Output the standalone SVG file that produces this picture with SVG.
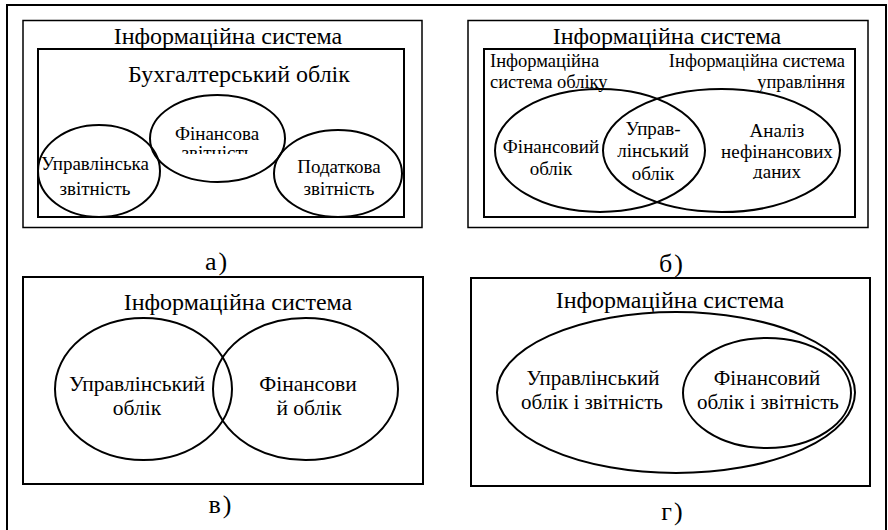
<svg xmlns="http://www.w3.org/2000/svg" width="888" height="530" viewBox="0 0 888 530" font-family="'Liberation Serif', 'DejaVu Serif', serif">
<style>
.fr{fill:none;stroke:#000;stroke-width:2}
.th{fill:none;stroke:#000;stroke-width:1.5}
.el{fill:none;stroke:#000;stroke-width:2}
text{font-family:'Liberation Serif','DejaVu Serif',serif;fill:#000;text-anchor:middle}
.t24{font-size:24px}
.lb{font-size:26px;letter-spacing:2px}
.t185{font-size:18.5px}
.t19{font-size:19px}
.t21{font-size:21px}
.t215{font-size:21.5px}
.st{text-anchor:start}
.en{text-anchor:end}
</style>
<defs>
<clipPath id="clipA"><rect x="140" y="100" width="160" height="54"/></clipPath>
<clipPath id="clipB"><rect x="720" y="100" width="120" height="79"/></clipPath>
</defs>
<rect x="0" y="0" width="888" height="530" fill="#fff"/>
<path d="M7,532 V5 H886 V532" class="fr"/>

<g id="panel-a">
<rect x="23" y="20.5" width="399" height="207" class="th"/>
<text class="t24" x="228" y="44">Інформаційна система</text>
<g id="a-accounting">
<rect x="38" y="49" width="366" height="168" class="fr"/>
<text class="t24" x="239" y="82">Бухгалтерський облік</text>
</g>
<g id="a-fin">
<ellipse cx="217.5" cy="138.5" rx="67.5" ry="43.5" class="el"/>
<text class="t19" x="217" y="140">Фінансова</text>
<text class="t19" x="217" y="159" clip-path="url(#clipA)">звітність</text>
</g>
<g id="a-mgmt">
<ellipse cx="99" cy="171" rx="61" ry="46" class="el"/>
<text class="t19" x="95" y="170">Управлінська</text>
<text class="t19" x="95" y="195">звітність</text>
</g>
<g id="a-tax">
<ellipse cx="338" cy="173.5" rx="64" ry="43.5" class="el"/>
<text class="t19" x="339" y="173">Податкова</text>
<text class="t19" x="339" y="195">звітність</text>
</g>
<text class="lb" x="217" y="270">а)</text>
</g>

<g id="panel-b">
<rect x="468" y="20.5" width="400" height="207" class="th"/>
<text class="t24" x="667" y="44">Інформаційна система</text>
<rect x="484" y="49" width="371" height="168" class="fr"/>
<g id="b-ias">
<text class="t185 st" x="490" y="67">Інформаційна</text>
<text class="t185 st" x="490" y="88">система обліку</text>
<ellipse cx="600" cy="150.5" rx="105" ry="61.5" class="el"/>
<text class="t19" x="551" y="153">Фінансовий</text>
<text class="t19" x="551" y="175">облік</text>
</g>
<g id="b-ism">
<text class="t185 en" x="845" y="67">Інформаційна система</text>
<text class="t185 en" x="845" y="88">управління</text>
<ellipse cx="721.5" cy="150.5" rx="118.5" ry="61.5" class="el"/>
<text class="t19" x="777" y="137">Аналіз</text>
<text class="t19" x="777" y="158">нефінансових</text>
<text class="t19" x="777" y="178" clip-path="url(#clipB)">даних</text>
</g>
<g id="b-mgmt">
<text class="t19" x="653" y="135">Управ-</text>
<text class="t19" x="653" y="157">лінський</text>
<text class="t19" x="653" y="180">облік</text>
</g>
<text class="lb" x="672" y="272">б)</text>
</g>

<g id="panel-c">
<rect x="23" y="277" width="400" height="207" class="fr"/>
<text class="t24" x="238" y="310">Інформаційна система</text>
<g id="c-mgmt">
<ellipse cx="143.5" cy="389" rx="88.5" ry="71" class="el"/>
<text class="t215" x="137" y="391">Управлінський</text>
<text class="t215" x="137" y="415">облік</text>
</g>
<g id="c-fin">
<ellipse cx="305.5" cy="389" rx="92.5" ry="71" class="el"/>
<text class="t215" x="308" y="391">Фінансови</text>
<text class="t215" x="309" y="415">й облік</text>
</g>
<text class="lb" x="221" y="513">в)</text>
</g>

<g id="panel-d">
<rect x="471" y="278" width="399" height="208" class="fr"/>
<text class="t24" x="670" y="308">Інформаційна система</text>
<g id="d-mgmt">
<ellipse cx="676" cy="392.5" rx="179" ry="80.5" class="el"/>
<text class="t21" x="593" y="385">Управлінський</text>
<text class="t21" x="592" y="409">облік і звітність</text>
</g>
<g id="d-fin">
<ellipse cx="767" cy="393" rx="84" ry="55" class="el"/>
<text class="t21" x="767" y="385">Фінансовий</text>
<text class="t21" x="768" y="409">облік і звітність</text>
</g>
<text class="lb" x="673" y="520">г)</text>
</g>
</svg>
